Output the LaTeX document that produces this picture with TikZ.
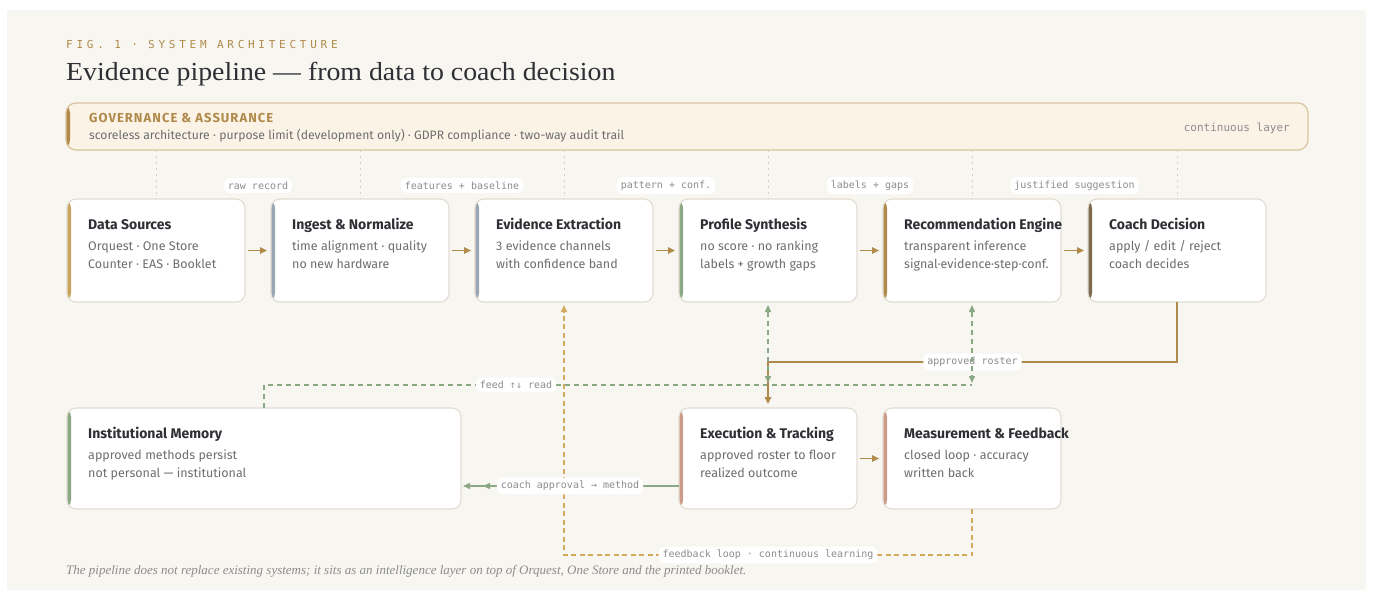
\documentclass[tikz,border=0pt]{standalone}
\usepackage{fontspec}
\setmainfont{Fira Sans}
\newfontfamily\titlef[FakeStretch=1.07]{Liberation Serif}
\newfontfamily\notef{Liberation Serif}
\newfontfamily\monof{DejaVu Sans Mono}
\newfontfamily\figf[LetterSpace=34]{DejaVu Sans Mono}
\newfontfamily\govf[LetterSpace=8]{Fira Sans}
\usetikzlibrary{arrows.meta,calc}
\definecolor{bgcard}{HTML}{F8F6F1}
\definecolor{gold}{HTML}{B08A4A}
\definecolor{goldlt}{HTML}{D4AA5E}
\definecolor{sage}{HTML}{8AA883}
\definecolor{slate}{HTML}{9AA6B5}
\definecolor{rose}{HTML}{CC9A88}
\definecolor{umber}{HTML}{7D6A50}
\definecolor{sand}{HTML}{C9A45C}
\definecolor{boxline}{HTML}{E2DDD2}
\definecolor{ink}{HTML}{2F2F35}
\definecolor{muted}{HTML}{6E6E6E}
\definecolor{monogray}{HTML}{8C8C8C}
\definecolor{govfill}{HTML}{FBF3E6}
\definecolor{govline}{HTML}{D9C49E}
\definecolor{dotline}{HTML}{D6D0C4}
\tikzset{
  card/.style={draw=boxline, line width=1.1pt, fill=white, rounded corners=9pt, inner sep=0pt, outer sep=0pt, anchor=north west},
  cardtitle/.style={font=\bfseries\fontsize{14}{16}\selectfont, text=ink, inner sep=0pt, anchor=base west},
  cardline/.style={font=\fontsize{12.5}{15}\selectfont, text=muted, inner sep=0pt, anchor=base west},
  pill/.style={fill=white, rounded corners=6pt, inner xsep=4pt, inner ysep=3.5pt, font=\monof\fontsize{10}{12}\selectfont, text=monogray},
  flow/.style={draw=gold, line width=1.4pt, -{Triangle[length=7pt,width=6.5pt]}, shorten >=4pt, shorten <=3pt},
  goldsolid/.style={draw=gold, line width=1.6pt},
  golddash/.style={draw=goldlt, line width=1.5pt, dash pattern=on 5pt off 3.5pt},
  sagedash/.style={draw=sage, line width=1.4pt, dash pattern=on 5pt off 4pt},
  sageline/.style={draw=sage, line width=1.4pt},
  guide/.style={draw=dotline, line width=0.8pt, dash pattern=on 2pt off 4pt},
}
\newcommand\mkcard[9]{%
  \node[card, minimum width=#4pt, minimum height=#5pt,
    path picture={\fill[#6] (path picture bounding box.north west) rectangle ([xshift=4pt]path picture bounding box.south west);}] (#1) at (#2,#3) {};
  \node[cardtitle] (#1-t) at ([xshift=21pt,yshift=-30pt]#1.north west) {#7};
  \node[cardline] (#1-a) at ([xshift=21pt,yshift=-51pt]#1.north west) {#8};
  \node[cardline] (#1-b) at ([xshift=21pt,yshift=-69pt]#1.north west) {#9};
}
\begin{document}
\begin{tikzpicture}[x=1pt,y=-1pt]
\useasboundingbox (0,0) rectangle (1373,597);
\fill[white] (0,0) rectangle (1373,597);
\fill[bgcard, rounded corners=2pt] (7,10) rectangle (1366,590);

% header
\node[anchor=base west, inner sep=0pt, font=\figf\fontsize{11}{13}\selectfont, text=gold] (fig) at (66,48) {FIG. 1 · SYSTEM ARCHITECTURE};
\node[anchor=base west, inner sep=0pt, font=\titlef\fontsize{26}{30}\selectfont, text=ink] (title) at (66,80) {Evidence pipeline — from data to coach decision};

% governance band
\node[card, draw=govline, fill=govfill, line width=1.2pt, rounded corners=10pt, minimum width=1242pt, minimum height=47pt,
  path picture={\fill[gold] (path picture bounding box.north west) rectangle ([xshift=4pt]path picture bounding box.south west);}] (gov) at (66,103) {};
\node[anchor=base west, inner sep=0pt, font=\govf\bfseries\fontsize{13}{15}\selectfont, text=gold] (govt) at (89,122.5) {GOVERNANCE \& ASSURANCE};
\node[anchor=base west, inner sep=0pt, font=\fontsize{12.2}{15}\selectfont, text=muted] (govs) at (89,139.5) {scoreless architecture · purpose limit (development only) · GDPR compliance · two-way audit trail};
\node[anchor=base east, inner sep=0pt, font=\monof\fontsize{11}{13}\selectfont, text=monogray] (govc) at (1290,131.5) {continuous layer};

% top row
\mkcard{ds}{67}{199}{178}{103}{sand}{Data Sources}{Orquest · One Store}{Counter · EAS · Booklet}
\mkcard{ing}{271}{199}{178}{103}{slate}{Ingest \& Normalize}{time alignment · quality}{no new hardware}
\mkcard{ee}{475}{199}{178}{103}{slate}{Evidence Extraction}{3 evidence channels}{with confidence band}
\mkcard{ps}{679}{199}{178}{103}{sage}{Profile Synthesis}{no score · no ranking}{labels + growth gaps}
\mkcard{re}{883}{199}{178}{103}{gold}{Recommendation Engine}{transparent inference}{signal·evidence·step·conf.}
\mkcard{cd}{1088}{199}{178}{103}{umber}{Coach Decision}{apply / edit / reject}{coach decides}

% bottom row
\mkcard{im}{67}{408}{394}{101}{sage}{Institutional Memory}{approved methods persist}{not personal — institutional}
\mkcard{ex}{679}{408}{178}{101}{rose}{Execution \& Tracking}{approved roster to floor}{realized outcome}
\mkcard{ms}{883}{408}{178}{101}{rose}{Measurement \& Feedback}{closed loop · accuracy}{written back}

% guides from governance
\foreach \b in {ds,ing,ee,ps,re,cd}{
  \draw[guide] (gov.south -| \b.north) -- (\b.north);
}

% main flow
\draw[flow] (ds) -- (ing);
\draw[flow] (ing) -- (ee);
\draw[flow] (ee) -- (ps);
\draw[flow] (ps) -- (re);
\draw[flow] (re) -- (cd);
\draw[flow] (ex) -- (ms);

\node[pill] (l1) at ($($(ds.east)!0.5!(ing.west)$)+(0,-65)$) {raw record};
\node[pill] (l2) at ($($(ing.east)!0.5!(ee.west)$)+(0,-65)$) {features + baseline};
\node[pill] (l3) at ($($(ee.east)!0.5!(ps.west)$)+(0,-65)$) {pattern + conf.};
\node[pill] (l4) at ($($(ps.east)!0.5!(re.west)$)+(0,-65)$) {labels + gaps};
\node[pill] (l5) at ($($(re.east)!0.5!(cd.west)$)+(0,-65)$) {justified suggestion};

% feedback loop (gold dashed)
\coordinate (fby) at (0,555);
\draw[golddash, -{Triangle[length=7pt,width=6pt]}, shorten >=3pt] (ms.south) -- (ms.south |- fby) -- (ee.south |- fby) -- (ee.south);
\node[pill] (lfb) at ($(ms.south |- fby)!0.5!(ee.south |- fby)$) {feedback loop · continuous learning};

% feed / read (sage dashed)
\coordinate (fdy) at (0,385);
\draw[sagedash] (im.north) -- (im.north |- fdy) -- (re.south |- fdy);
\node[pill] (lfd) at ($(im.north |- fdy)!0.5!(ps.south |- fdy)$) {feed ↑↓ read};

% approved roster (gold solid)
\coordinate (ary) at (0,362);
\draw[goldsolid, -{Triangle[length=7pt,width=6.5pt]}, shorten >=4pt] (cd.south) -- (cd.south |- ary) -- (ex.north |- ary) -- (ex.north);
\node[pill] (lar) at ($(cd.south |- ary)!0.5!(ex.north |- ary)$) {approved roster};

\draw[sagedash, {Triangle[length=7pt,width=6pt]}-{Triangle[length=7pt,width=6pt]}, shorten <=3pt, shorten >=2pt] (ps.south) -- (ps.south |- fdy);
\draw[sagedash, {Triangle[length=7pt,width=6pt]}-{Triangle[length=7pt,width=6pt]}, shorten <=3pt, shorten >=2pt] (re.south) -- (re.south |- fdy);

% coach approval -> method
\draw[sageline, -{Triangle[length=7pt,width=6pt,sep=13pt]Triangle[length=7pt,width=6pt]}, shorten >=2pt] ([yshift=23pt]ex.south west) -- ([yshift=23pt]im.south east);
\node[pill] (lca) at ($([yshift=23pt]ex.south west)!0.5!([yshift=23pt]im.south east)$) {coach approval → method};

% footnote
\node[anchor=base west, inner sep=0pt, font=\notef\itshape\fontsize{13}{15}\selectfont, text=monogray] (note) at (66,574) {The pipeline does not replace existing systems; it sits as an intelligence layer on top of Orquest, One Store and the printed booklet.};
\end{tikzpicture}
\end{document}
